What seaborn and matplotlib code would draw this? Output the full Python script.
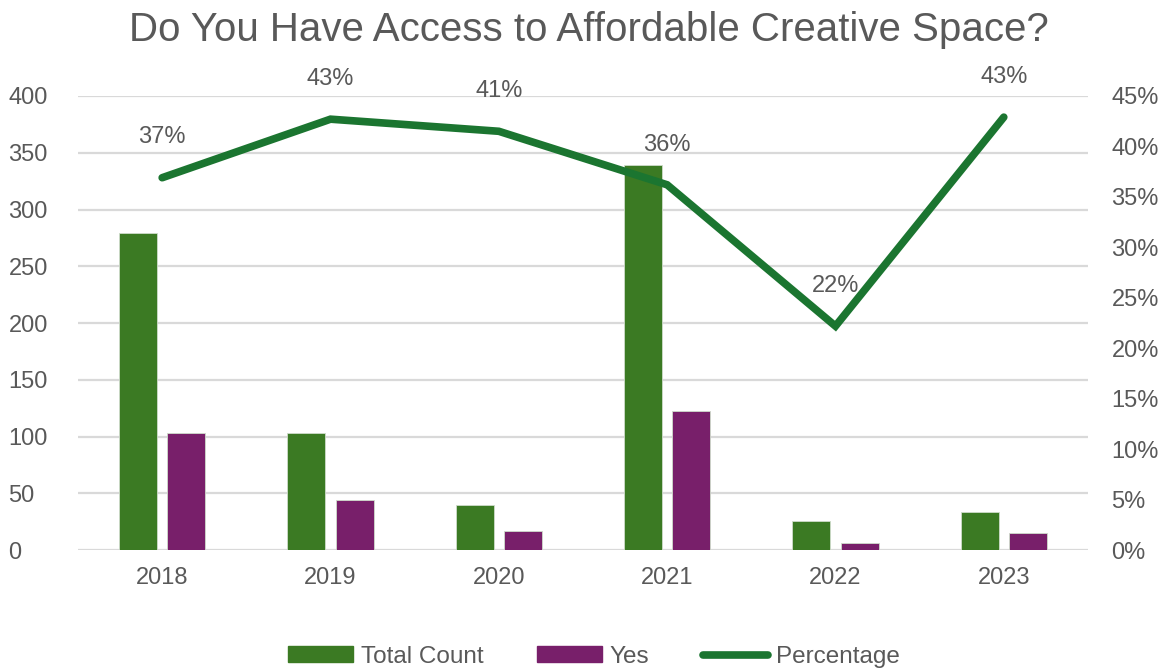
import matplotlib
matplotlib.use("Agg")
import matplotlib.pyplot as plt
import seaborn as sns
import pandas as pd
import numpy as np
from matplotlib.patches import Patch
from matplotlib.lines import Line2D
from matplotlib import font_manager

years = ["2018", "2019", "2020", "2021", "2022", "2023"]
total_count = [279, 103, 40, 339, 26, 34]
yes_count = [103, 44, 17, 123, 6, 15]
percentage = [0.369, 0.427, 0.415, 0.362, 0.222, 0.429]
pct_labels = ["37%", "43%", "41%", "36%", "22%", "43%"]
left_ticks = [0, 50, 100, 150, 200, 250, 300, 350, 400]
right_ticks = [0, 0.05, 0.10, 0.15, 0.20, 0.25, 0.30, 0.35, 0.40, 0.45]

sns.set_theme(style="white")
avail = {f.name for f in font_manager.fontManager.ttflist}
narrow = "Liberation Sans Narrow" if "Liberation Sans Narrow" in avail else "Liberation Sans"
plt.rcParams["font.family"] = ["Liberation Sans", "DejaVu Sans"]

GREEN = "#3b7a23"
PURPLE = "#781f6a"
LINE = "#1b7530"
GRAY = "#595959"
GRID = "#d9d9d9"

df = pd.DataFrame({
    "Year": years * 2,
    "Value": total_count + yes_count,
    "Series": ["Total Count"] * len(years) + ["Yes"] * len(years),
})

fig = plt.figure(figsize=(11.73, 6.71), dpi=100)
ax = fig.add_axes([0.0665, 0.180, 0.861, 0.677])

sns.barplot(data=df, x="Year", y="Value", hue="Series", order=years,
            palette=[GREEN, PURPLE], saturation=1, width=0.576, gap=0.215,
            edgecolor="#cfdccb", linewidth=0.6, ax=ax, legend=False)

ax.set_ylim(0, 400)
ax.set_xlim(-0.5, len(years) - 0.5)
ax.set_yticks(left_ticks)
ax.yaxis.grid(True, color=GRID, linewidth=1.6)
ax.set_axisbelow(True)
for s in ax.spines.values():
    s.set_visible(False)
ax.set_xlabel("")
ax.set_ylabel("")
ax.tick_params(axis="both", length=0, labelsize=17, labelcolor=GRAY, pad=10)
ax.tick_params(axis="x", pad=12)
ax.tick_params(axis="y", pad=50)
for lbl in ax.get_yticklabels():
    lbl.set_horizontalalignment("left")

ax2 = ax.twinx()
xpos = np.arange(len(years))
sns.lineplot(x=xpos, y=percentage, color=LINE, linewidth=5.5, ax=ax2,
             solid_capstyle="round", solid_joinstyle="miter")
ax2.set_ylim(0, 0.45)
ax2.set_yticks(right_ticks)
ax2.set_yticklabels([f"{int(round(t*100))}%" for t in right_ticks])
ax2.tick_params(axis="y", length=0, labelsize=17, labelcolor=GRAY, pad=17)
for s in ax2.spines.values():
    s.set_visible(False)
ax2.set_ylabel("")
ax2.grid(False)

for x, p, lab in zip(xpos, percentage, pct_labels):
    ax2.annotate(lab, (x, p), xytext=(0, 29), textcoords="offset points",
                 ha="center", va="center", fontsize=17, color=GRAY,
                 annotation_clip=False)

fig.text(0.502, 0.955, "Do You Have Access to Affordable Creative Space?",
         ha="center", va="center", fontsize=29, color=GRAY, family=[narrow, "DejaVu Sans"])

handles = [Patch(facecolor=GREEN, edgecolor=GREEN),
           Patch(facecolor=PURPLE, edgecolor=PURPLE),
           Line2D([0], [0], color=LINE, linewidth=5.5, solid_capstyle="round")]
fig.legend(handles, ["Total Count", "Yes", "Percentage"], loc="center",
           bbox_to_anchor=(0.506, 0.021), ncol=3, frameon=False,
           prop={"family": [narrow, "DejaVu Sans"], "size": 17.5},
           labelcolor=GRAY, handlelength=2.7, handleheight=0.65,
           handletextpad=0.3, columnspacing=2.2)

fig.savefig("out.png", dpi=100)
